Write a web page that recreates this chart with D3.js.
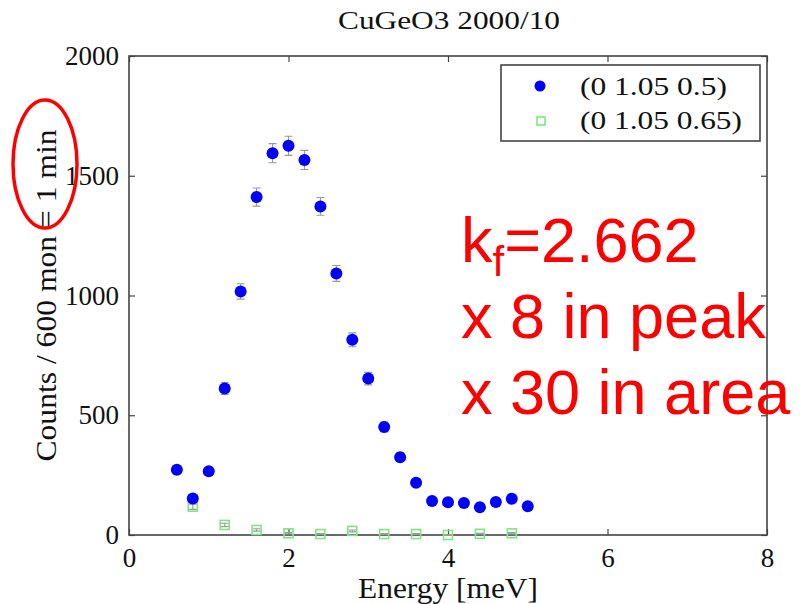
<!DOCTYPE html>
<html>
<head>
<meta charset="utf-8">
<script src="https://cdn.jsdelivr.net/npm/d3@7"></script>
<style>
  body { margin: 0; background: #fff; }
  svg { display: block; }
</style>
</head>
<body>
<div id="chart"></div>
<script>
// chart data
const energyA = [0.6, 0.8, 1.0, 1.2, 1.4, 1.6, 1.8, 2.0, 2.2, 2.4, 2.6, 2.8, 3.0, 3.2, 3.4, 3.6, 3.8, 4.0, 4.2, 4.4, 4.6, 4.8, 5.0];
const countsA = [272, 152, 266, 612, 1017, 1411, 1594, 1625, 1566, 1372, 1092, 815, 653, 451, 325, 218, 142, 137, 134, 116, 138, 151, 120];
const errA    = [17, 12, 16, 25, 32, 38, 40, 40, 40, 37, 33, 29, 26, 21, 18, 15, 12, 12, 12, 11, 12, 12, 11];

const energyB = [0.8, 1.2, 1.6, 2.0, 2.4, 2.8, 3.2, 3.6, 4.0, 4.4, 4.8];
const countsB = [118, 42, 21, 7, 4, 17, 4, 4, 0, 5, 7];
const errB    = [11, 7, 5, 3, 2, 4, 2, 2, 2, 2, 3];

const seriesNames = ["(0 1.05 0.5)", "(0 1.05 0.65)"];
const xTicks = [0, 2, 4, 6, 8];
const yTicks = [0, 500, 1000, 1500, 2000];
const noteLines = ["x 8 in peak", "x 30 in area"];

const width = 802;
const height = 604;
const margin = {left: 129, right: 35, top: 56, bottom: 69};

const serif = "Liberation Serif, Times New Roman, serif";
const sans = "Liberation Sans, Arial, sans-serif";

const svg = d3.select("#chart")
  .append("svg")
  .attr("width", width)
  .attr("height", height);

const x = d3.scaleLinear().domain([0, 8]).range([margin.left, width - margin.right]);
const y = d3.scaleLinear().domain([0, 2000]).range([height - margin.bottom, margin.top]);

const frameColor = "#444";

// axes, ticks point inwards (matlab style) on all four sides
function styleAxis(g) {
  g.attr("font-family", serif).attr("font-size", 27);
  g.select(".domain").remove();
  g.selectAll(".tick line").attr("stroke", frameColor).attr("stroke-width", 1.2);
  g.selectAll(".tick text")
    .attr("font-family", serif)
    .attr("font-size", 27)
    .attr("fill", "#111");
}

svg.append("g")
  .attr("transform", `translate(0,${y(0)})`)
  .call(d3.axisBottom(x).tickValues(xTicks).tickFormat(d3.format("d")).tickSizeInner(-6).tickPadding(13))
  .call(styleAxis)
  .selectAll(".tick text").attr("dy", "0.71em").attr("y", 13);

svg.append("g")
  .attr("transform", `translate(0,${y(2000)})`)
  .call(d3.axisTop(x).tickValues(xTicks).tickFormat("").tickSizeInner(-6))
  .call(styleAxis);

svg.append("g")
  .attr("transform", `translate(${x(0)},0)`)
  .call(d3.axisLeft(y).tickValues(yTicks).tickFormat(d3.format("d")).tickSizeInner(-6).tickPadding(10))
  .call(styleAxis);

svg.append("g")
  .attr("transform", `translate(${x(8)},0)`)
  .call(d3.axisRight(y).tickValues(yTicks).tickFormat("").tickSizeInner(-6))
  .call(styleAxis);

// frame
svg.append("rect")
  .attr("x", x(0)).attr("y", y(2000))
  .attr("width", x(8) - x(0)).attr("height", y(0) - y(2000))
  .attr("fill", "none")
  .attr("stroke", frameColor)
  .attr("stroke-width", 1.6);

// title and axis labels
svg.append("text")
  .attr("x", 449).attr("y", 29)
  .attr("text-anchor", "middle")
  .attr("font-family", serif).attr("font-size", 26)
  .attr("textLength", 222).attr("lengthAdjust", "spacingAndGlyphs")
  .attr("fill", "#111")
  .text("CuGeO3 2000/10");

svg.append("text")
  .attr("x", 448).attr("y", 598)
  .attr("text-anchor", "middle")
  .attr("font-family", serif).attr("font-size", 29)
  .attr("textLength", 180).attr("lengthAdjust", "spacingAndGlyphs")
  .attr("fill", "#111")
  .text("Energy [meV]");

svg.append("text")
  .attr("transform", `translate(56,${(y(0) + y(2000)) / 2}) rotate(-90)`)
  .attr("text-anchor", "middle")
  .attr("font-family", serif).attr("font-size", 29)
  .attr("textLength", 332).attr("lengthAdjust", "spacingAndGlyphs")
  .attr("fill", "#111")
  .text("Counts / 600 mon = 1 min");

// data
const dataA = energyA.map((e, i) => ({e: e, c: countsA[i], err: errA[i]}));
const dataB = energyB.map((e, i) => ({e: e, c: countsB[i], err: errB[i]}));

function errorBars(data) {
  const g = svg.append("g").attr("stroke", "#999").attr("stroke-width", 1.1);
  g.selectAll(".eb")
    .data(data)
    .enter()
    .append("path")
    .attr("d", d => {
      const cx = x(d.e), y1 = y(d.c - d.err), y2 = y(d.c + d.err);
      return `M${cx},${y1}V${y2}M${cx - 4},${y1}H${cx + 4}M${cx - 4},${y2}H${cx + 4}`;
    })
    .attr("fill", "none");
}

errorBars(dataB);
svg.selectAll(".sq")
  .data(dataB)
  .enter()
  .append("rect")
  .attr("x", d => x(d.e) - 4.5)
  .attr("y", d => y(d.c) - 4.5)
  .attr("width", 9).attr("height", 9)
  .attr("fill", "none")
  .attr("stroke", "#7ee87e")
  .attr("stroke-width", 1.6);

errorBars(dataA);
svg.selectAll(".dot")
  .data(dataA)
  .enter()
  .append("circle")
  .attr("cx", d => x(d.e))
  .attr("cy", d => y(d.c))
  .attr("r", 6)
  .attr("fill", "#0000ff");

// legend
const legend = svg.append("g");
legend.append("rect")
  .attr("x", 501).attr("y", 65)
  .attr("width", 259).attr("height", 76)
  .attr("fill", "#fff")
  .attr("stroke", frameColor)
  .attr("stroke-width", 1.6);
legend.append("circle").attr("cx", 540).attr("cy", 86).attr("r", 5.5).attr("fill", "#0000ff");
legend.append("rect")
  .attr("x", 537).attr("y", 117).attr("width", 8).attr("height", 8)
  .attr("fill", "none").attr("stroke", "#7ee87e").attr("stroke-width", 1.6);
legend.selectAll(".lt")
  .data(seriesNames)
  .enter()
  .append("text")
  .attr("x", 580)
  .attr("y", (d, i) => 95 + i * 34)
  .attr("font-family", serif).attr("font-size", 26)
  .attr("textLength", (d, i) => i === 0 ? 147 : 162)
  .attr("lengthAdjust", "spacingAndGlyphs")
  .attr("fill", "#111")
  .text(d => d);

// red annotations
const note = svg.append("text")
  .attr("x", 461).attr("y", 262)
  .attr("font-family", sans).attr("font-size", 63)
  .attr("fill", "#ff0000");
note.append("tspan").text("k");
note.append("tspan").attr("font-size", 42).attr("dy", 14).text("f");
note.append("tspan").attr("dy", -14).text("=2.662");

svg.selectAll(".note")
  .data(noteLines)
  .enter()
  .append("text")
  .attr("x", 461)
  .attr("y", (d, i) => 338 + i * 76)
  .attr("font-family", sans).attr("font-size", 63)
  .attr("fill", "#ff0000")
  .text(d => d);

svg.append("ellipse")
  .attr("cx", 45).attr("cy", 164)
  .attr("rx", 32).attr("ry", 64)
  .attr("fill", "none")
  .attr("stroke", "#ff0000")
  .attr("stroke-width", 3.5);
</script>
</body>
</html>
